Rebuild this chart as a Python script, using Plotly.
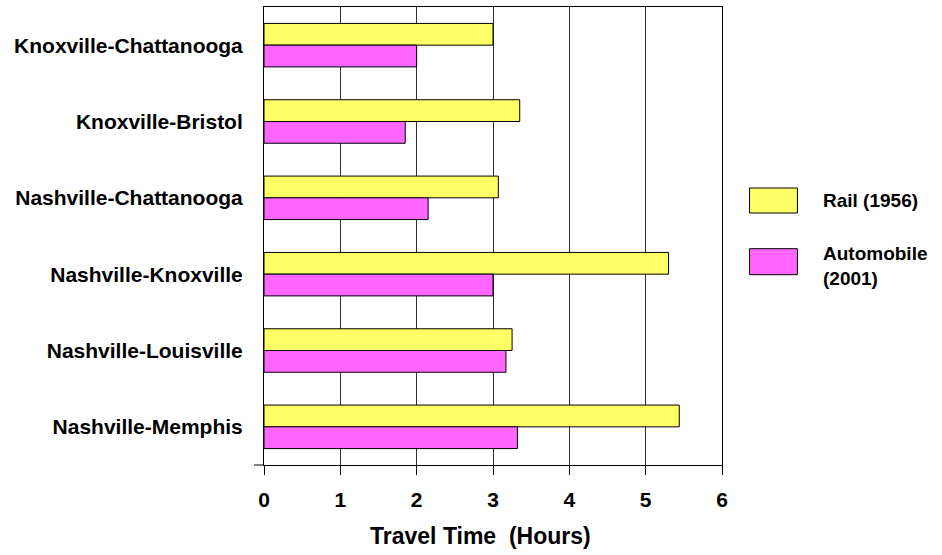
import plotly.graph_objects as go

# Routes, listed top to bottom
routes = [
    "Knoxville-Chattanooga",
    "Knoxville-Bristol",
    "Nashville-Chattanooga",
    "Nashville-Knoxville",
    "Nashville-Louisville",
    "Nashville-Memphis",
]
rail_1956 = [3.0, 3.35, 3.07, 5.3, 3.25, 5.44]
auto_2001 = [2.0, 1.85, 2.15, 3.0, 3.17, 3.32]
x_ticks = [0, 1, 2, 3, 4, 5, 6]

FONT = "Arial, Liberation Sans, sans-serif"
RAIL_COLOR = "#FFFF66"
AUTO_COLOR = "#FF66FF"

fig = go.Figure()
fig.add_trace(go.Bar(
    y=routes, x=rail_1956, orientation="h", name="Rail (1956)",
    marker=dict(color=RAIL_COLOR, line=dict(color="black", width=1)),
))
fig.add_trace(go.Bar(
    y=routes, x=auto_2001, orientation="h", name="Automobile (2001)",
    marker=dict(color=AUTO_COLOR, line=dict(color="black", width=1)),
))

# Hand-drawn legend to the right of the plot
legend_items = [
    (RAIL_COLOR, 0.6048, 0.5502, "Rail (1956)", 0.5777),
    (AUTO_COLOR, 0.4723, 0.4155, "Automobile<br>(2001)", 0.434),
]
shapes = []
annotations = []
for color, y_top, y_bot, label, y_text in legend_items:
    shapes.append(dict(
        type="rect", xref="paper", yref="paper",
        x0=1.0601, x1=1.1647, y0=y_bot, y1=y_top,
        fillcolor=color, line=dict(color="black", width=1),
    ))
    annotations.append(dict(
        text="<b>%s</b>" % label, xref="paper", yref="paper",
        x=1.2167, y=y_text, xanchor="left", yanchor="middle",
        align="left", showarrow=False,
        font=dict(family=FONT, size=19, color="black"),
    ))

# Short tick at the bottom of the category axis
shapes.append(dict(
    type="line", xref="paper", yref="paper", xsizemode="pixel",
    xanchor=0, x0=-10, x1=0, y0=0, y1=0,
    line=dict(color="black", width=1),
))

# Axis title
annotations.append(dict(
    text="<b>Travel Time \u00a0(Hours)</b>", xref="paper", yref="paper",
    x=0.4736, y=-0.1544, xanchor="center", yanchor="middle",
    showarrow=False, font=dict(family=FONT, size=23, color="black"),
))

fig.update_layout(
    width=942, height=555,
    margin=dict(l=263.5, r=219.7, t=7.3, b=89.7),
    paper_bgcolor="white", plot_bgcolor="white",
    barmode="group", bargap=0.43, bargroupgap=0,
    showlegend=False,
    shapes=shapes, annotations=annotations,
    font=dict(family=FONT, color="black"),
)
fig.update_xaxes(
    range=[0, 6], tickvals=x_ticks, ticktext=["<b>%d</b>" % v for v in x_ticks],
    showgrid=True, gridcolor="#303030", gridwidth=1,
    showline=True, linecolor="black", linewidth=1, mirror=True,
    ticks="outside", ticklen=9, tickcolor="black",
    tickfont=dict(family=FONT, size=21, color="black"),
    ticklabelstandoff=7, zeroline=False,
)
fig.update_yaxes(
    autorange="reversed", categoryorder="array", categoryarray=routes,
    tickvals=routes, ticktext=["<b>%s</b>" % r for r in routes],
    showgrid=False, showline=True, linecolor="black", linewidth=1, mirror=True,
    ticks="", tickfont=dict(family=FONT, size=21, color="black"),
    ticklabelstandoff=16,
)

fig.write_html("out.html")
